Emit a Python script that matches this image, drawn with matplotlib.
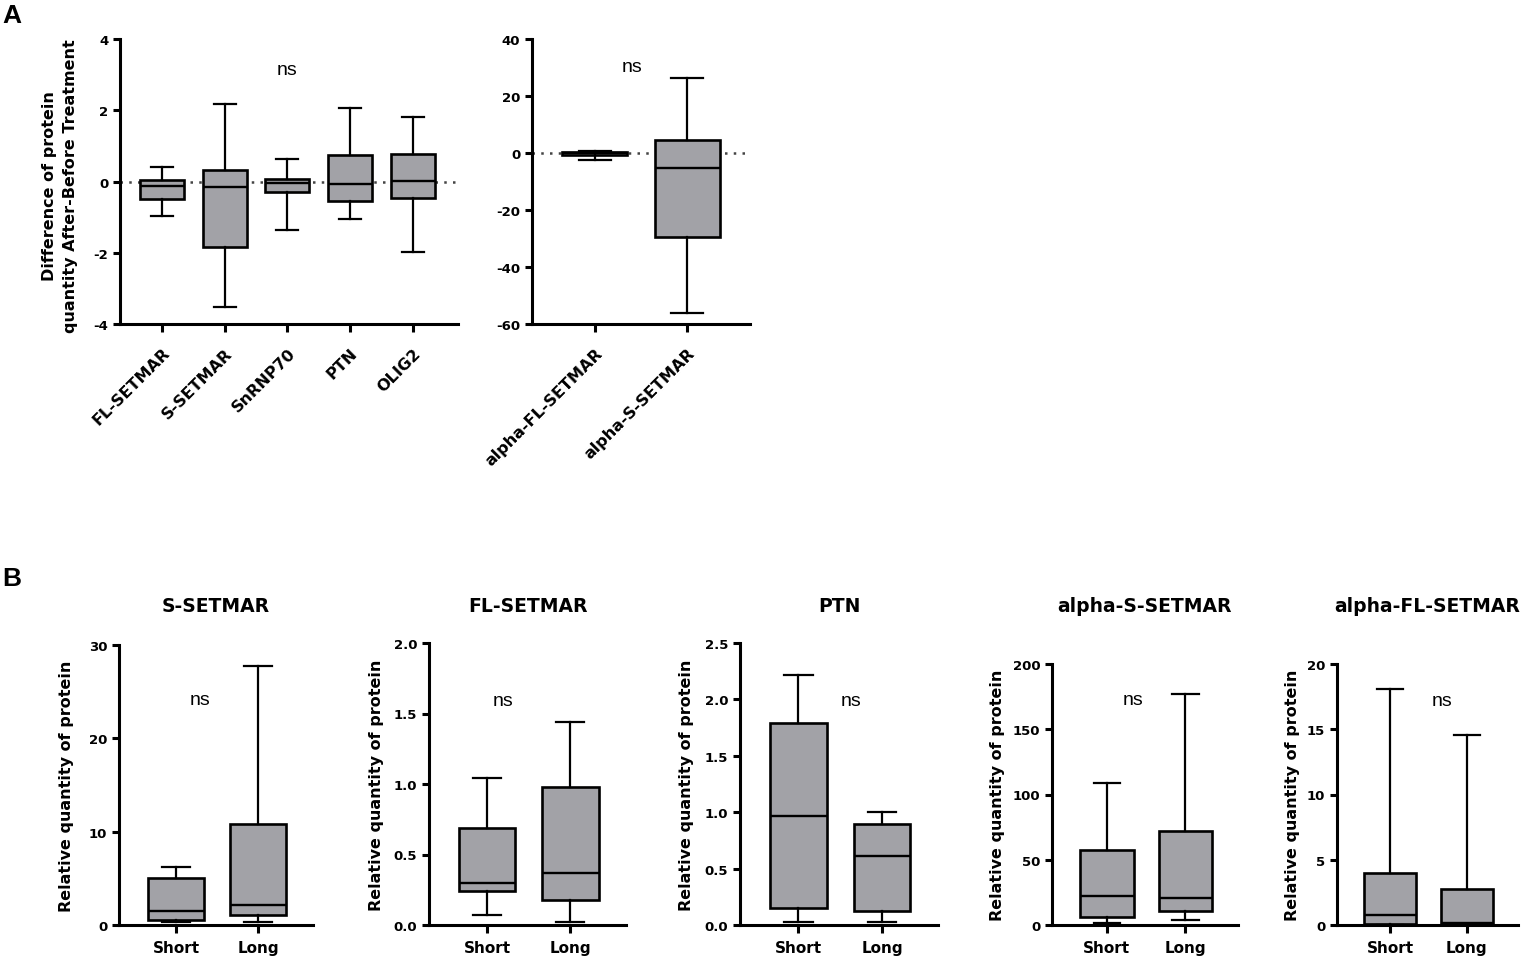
import numpy as np
import matplotlib
matplotlib.use("Agg")
import matplotlib.pyplot as plt
from matplotlib.ticker import MultipleLocator, FormatStrFormatter

plt.rcParams['axes.unicode_minus'] = False
plt.rcParams['font.family'] = ['DejaVu Sans']

# ---------------- datos ----------------
# Panel A, izquierda: diferencia despues-antes del tratamiento
cats_a1 = ['FL-SETMAR', 'S-SETMAR', 'SnRNP70', 'PTN', 'OLIG2']
a1_lo = [-0.97, -3.52, -1.37, -1.06, -1.98]
a1_q1 = [-0.50, -1.85, -0.30, -0.56, -0.46]
a1_med = [-0.13, -0.16, -0.05, -0.08, 0.02]
a1_q3 = [0.05, 0.32, 0.07, 0.73, 0.78]
a1_hi = [0.40, 2.18, 0.64, 2.05, 1.82]

# Panel A, derecha
cats_a2 = ['alpha-FL-SETMAR', 'alpha-S-SETMAR']
a2_lo = [-2.6, -56.2]
a2_q1 = [-0.7, -29.4]
a2_med = [0.0, -5.3]
a2_q3 = [0.5, 4.7]
a2_hi = [0.6, 26.2]

# Panel B: cantidad relativa de proteina, Short vs Long
grupos = ['Short', 'Long']
b_titles = ['S-SETMAR', 'FL-SETMAR', 'PTN', 'alpha-S-SETMAR', 'alpha-FL-SETMAR']
b_lo = [[0.3, 0.3], [0.07, 0.02], [0.03, 0.03], [1.3, 4.0], [0.0, 0.0]]
b_q1 = [[0.55, 1.1], [0.24, 0.18], [0.155, 0.12], [6.0, 11.0], [0.08, 0.05]]
b_med = [[1.55, 2.15], [0.30, 0.37], [0.97, 0.61], [22.5, 20.5], [0.75, 0.15]]
b_q3 = [[5.0, 10.8], [0.69, 0.98], [1.79, 0.895], [57.7, 72.3], [3.98, 2.76]]
b_hi = [[6.25, 27.8], [1.04, 1.44], [2.22, 1.0], [108.8, 176.8], [18.08, 14.58]]
b_ymax = [30, 2.0, 2.5, 200, 20]
b_step = [10, 0.5, 0.5, 50, 5]
b_fmt = ['%d', '%.1f', '%.1f', '%d', '%d']

# ---------------- layout (pixeles) ----------------
W, H = 1535, 962
fig = plt.figure(figsize=(W / 100, H / 100), dpi=100)
fig.patch.set_facecolor('white')


def rect(x0, x1, y0, y1):
    return [x0 / W, 1 - y1 / H, (x1 - x0) / W, (y1 - y0) / H]


gris = '#a2a2a7'
lw_ax = 2.2


def estilo(ax):
    for s in ['top', 'right']:
        ax.spines[s].set_visible(False)
    for s in ['left', 'bottom']:
        ax.spines[s].set_linewidth(lw_ax)
    ax.tick_params(direction='out', length=5, width=lw_ax)
    ax.tick_params(axis='x', length=6)
    for lab in ax.get_yticklabels():
        lab.set_fontweight('bold')
        lab.set_fontsize(9.5)


def cajas(ax, lo, q1, med, q3, hi, ancho):
    stats = [dict(whislo=a, q1=b, med=c, q3=d, whishi=e, fliers=[])
             for a, b, c, d, e in zip(lo, q1, med, q3, hi)]
    ax.bxp(stats, positions=range(len(stats)), widths=ancho, patch_artist=True,
           showfliers=False,
           boxprops=dict(facecolor=gris, edgecolor='black', linewidth=1.9),
           medianprops=dict(color='black', linewidth=1.7),
           whiskerprops=dict(color='black', linewidth=1.6),
           capprops=dict(color='black', linewidth=1.6), zorder=2)


def ns(ax, x, y):
    ax.text(x, y, 'ns', ha='center', va='center', fontsize=14,
            family='Liberation Sans')


# Panel A izquierda
ax1 = fig.add_axes(rect(120, 458, 40, 325))
ax1.axhline(0, color='#444444', lw=1.8, ls=(0, (1, 2.5)), zorder=1)
cajas(ax1, a1_lo, a1_q1, a1_med, a1_q3, a1_hi, 0.7)
ax1.set_xlim(-0.67, 4.72)
ax1.set_ylim(-4, 4)
ax1.yaxis.set_major_locator(MultipleLocator(2))
ax1.set_xticks(range(len(cats_a1)))
ax1.set_xticklabels(cats_a1, rotation=45, ha='right', va='top',
                    rotation_mode='anchor', fontsize=11.5, fontweight='bold')
estilo(ax1)
ax1.tick_params(axis='x', pad=9)
ns(ax1, 2.0, 3.13)
fig.text(60 / W, 1 - 186 / H,
         'Difference of protein\nquantity After-Before Treatment',
         rotation=90, ha='center', va='center', fontsize=11.5,
         fontweight='bold', linespacing=1.55)

# Panel A derecha
ax2 = fig.add_axes(rect(532, 750, 40, 325))
ax2.axhline(0, color='#444444', lw=1.8, ls=(0, (1, 2.5)), zorder=1)
cajas(ax2, a2_lo, a2_q1, a2_med, a2_q3, a2_hi, 0.7)
ax2.set_xlim(-0.68, 1.68)
ax2.set_ylim(-60, 40)
ax2.yaxis.set_major_locator(MultipleLocator(20))
ax2.set_xticks(range(len(cats_a2)))
ax2.set_xticklabels(cats_a2, rotation=45, ha='right', va='top',
                    rotation_mode='anchor', fontsize=11.5, fontweight='bold')
estilo(ax2)
ax2.tick_params(axis='x', pad=9)
ns(ax2, 0.4, 30.3)

# Panel B
b_rects = [(119, 313, 646), (429, 626, 644), (740, 938, 644),
           (1052, 1238, 665), (1337, 1518, 665)]
b_ylab_x = [67, 376, 687, 997, 1293]
b_ns = [(0.29, 24.2), (0.19, 1.59), (0.63, 1.99), (0.33, 172.7), (0.67, 17.2)]

for i in range(5):
    x0, x1, yt = b_rects[i]
    ax = fig.add_axes(rect(x0, x1, yt, 926))
    cajas(ax, b_lo[i], b_q1[i], b_med[i], b_q3[i], b_hi[i], 0.68)
    ax.set_xlim(-0.7, 1.67)
    ax.set_ylim(0, b_ymax[i])
    ax.yaxis.set_major_locator(MultipleLocator(b_step[i]))
    ax.yaxis.set_major_formatter(FormatStrFormatter(b_fmt[i]))
    ax.set_xticks(range(2))
    ax.set_xticklabels(grupos, fontsize=11, fontweight='bold')
    estilo(ax)
    ax.tick_params(axis='x', pad=5)
    ns(ax, *b_ns[i])
    fig.text((x0 + x1) / 2 / W, 1 - 607 / H, b_titles[i], ha='center',
             va='center', fontsize=13.5, fontweight='bold')
    fig.text(b_ylab_x[i] / W, 1 - (yt + 926) / 2 / H,
             'Relative quantity of protein', rotation=90, ha='center',
             va='center', fontsize=11.5, fontweight='bold')

# letras de panel
fig.text(2 / W, 1 - 16 / H, 'A', fontsize=19, fontweight='bold',
         family='Liberation Sans', va='center', ha='left')
fig.text(2 / W, 1 - 579 / H, 'B', fontsize=19, fontweight='bold',
         family='Liberation Sans', va='center', ha='left')

fig.savefig('out.png', dpi=100, facecolor='white')
